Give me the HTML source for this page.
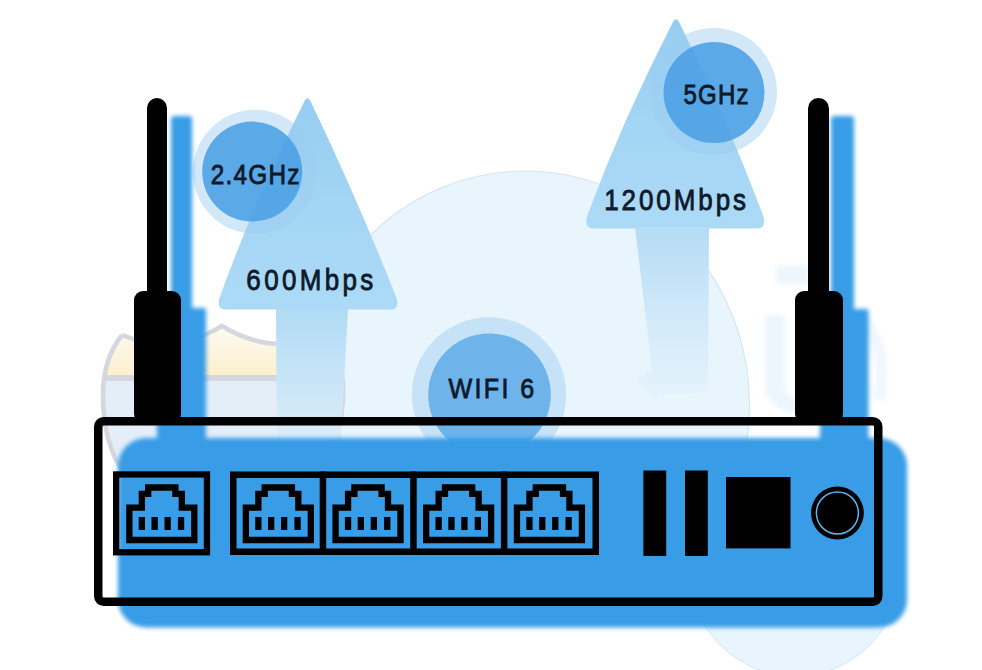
<!DOCTYPE html>
<html><head><meta charset="utf-8">
<style>
html,body{margin:0;padding:0;background:#fff;width:982px;height:670px;overflow:hidden;}
svg{position:absolute;left:0;top:0;display:block;}
text{font-family:"Liberation Sans",sans-serif;fill:#0d1a2b;}
</style></head>
<body>
<svg width="982" height="670" viewBox="0 0 982 670">
<defs>
  <filter id="blur2" x="-10%" y="-10%" width="120%" height="120%"><feGaussianBlur stdDeviation="2"/></filter>
  <filter id="blur3" x="-30%" y="-30%" width="160%" height="160%"><feGaussianBlur stdDeviation="2.5"/></filter>
  <linearGradient id="headG" x1="0" y1="0" x2="0" y2="1">
    <stop offset="0" stop-color="#95cdf2"/>
    <stop offset="0.5" stop-color="#a3d5f4"/>
    <stop offset="1" stop-color="#acdaf6"/>
  </linearGradient>
  <linearGradient id="stemL" x1="0" y1="0" x2="0" y2="1">
    <stop offset="0" stop-color="#b0dbf5"/>
    <stop offset="1" stop-color="#dcedf9"/>
  </linearGradient>
  <linearGradient id="stemR" x1="0" y1="0" x2="0" y2="1">
    <stop offset="0" stop-color="#b3dcf6"/>
    <stop offset="0.55" stop-color="#d3eaf9"/>
    <stop offset="1" stop-color="#e6f3fc"/>
  </linearGradient>
  <g id="rj">
    <path d="M16.35,69 V36.6 H28.85 V22.8 H35.2 V16.5 H62.4 V22.8 H68.8 V36.6 H81.3 V69 Z" fill="none" stroke="#000" stroke-width="6.3" stroke-linejoin="miter"/>
    <rect x="25.7" y="46" width="6.3" height="13" fill="#000"/>
    <rect x="38.5" y="46" width="6.3" height="13" fill="#000"/>
    <rect x="51.5" y="46" width="6.3" height="13" fill="#000"/>
    <rect x="64.9" y="46" width="6.3" height="13" fill="#000"/>
  </g>
</defs>

<!-- background big circle -->
<clipPath id="bigClip"><rect x="0" y="0" width="982" height="622"/></clipPath><ellipse clip-path="url(#bigClip)" cx="525" cy="405" rx="224.4" ry="234" fill="#e9f5fd" stroke="#d5e6f1" stroke-width="1.2"/>
<!-- bottom right faint circle -->
<circle cx="795" cy="570.4" r="105.7" fill="#e9f5fd" stroke="#d5e6f1" stroke-width="1"/>

<!-- faint shield left -->
<defs>
  <clipPath id="shieldClip"><path d="M122,335 Q172,356 222,326 Q272,356 322,336 C338,352 345,372 343,400 C341,425 336,450 322,470 L122,470 C110,452 103,425 103,395 C103,370 110,350 122,335 Z"/></clipPath>
  <linearGradient id="yel" x1="0" y1="0" x2="0" y2="1">
    <stop offset="0" stop-color="#fdfbf3"/>
    <stop offset="1" stop-color="#fcefcf"/>
  </linearGradient>
</defs>
<g clip-path="url(#shieldClip)">
  <rect x="95" y="320" width="260" height="57" fill="url(#yel)"/>
  <rect x="95" y="377" width="260" height="100" fill="#e4eef9"/>
  <rect x="95" y="375" width="260" height="6" fill="#d5d6de"/>
</g>
<path d="M122,335 Q172,356 222,326 Q272,356 322,336 C338,352 345,372 343,400 C341,425 336,450 322,470 M122,470 C110,452 103,425 103,395 C103,370 110,350 122,335" fill="none" stroke="#d5d6de" stroke-width="4.5"/>

<!-- faint shapes right -->
<g fill="#edf6fd" filter="url(#blur3)">
  <rect x="776" y="265" width="33" height="19"/>
  <rect x="765" y="315" width="20" height="80"/>
  <path d="M765,388 Q770,408 795,414 L800,400 Q786,396 785,388 Z"/>
</g>
<path d="M864,320 Q890,356 878,400" fill="none" stroke="#f0f7fd" stroke-width="12" filter="url(#blur3)"/>

<!-- left arrow -->
<path d="M303.6,103 Q307.5,93.5 311.4,103 Q358,200.5 396.5,298 Q400,309.5 390,309.5 L226,309.5 Q216,309.5 219.5,298 Q254.5,200.5 303.6,103 Z" fill="url(#headG)"/>
<path d="M276,309 H348 L341,440 H277 Z" fill="url(#stemL)"/>
<!-- right arrow -->
<path d="M672,24 Q676,14.5 680,24 Q727,119.5 763,215 Q767,228.5 757,228.5 L594,228.5 Q583,228.5 587.5,215 Q622.8,119.5 672,24 Z" fill="url(#headG)"/>
<path d="M635,227 H709 L708,392 L660,395 L655,402 L637,380 L652,370 Z" fill="url(#stemR)"/>

<!-- circles -->
<circle cx="255" cy="171.8" r="62" fill="#9ccbf0" fill-opacity="0.45"/>
<circle cx="252.2" cy="171.6" r="50" fill="#4b9fe4" fill-opacity="0.88"/>
<circle cx="713.5" cy="91.5" r="63.5" fill="#9ccbf0" fill-opacity="0.45"/>
<circle cx="714" cy="92.5" r="50.5" fill="#4b9fe4" fill-opacity="0.88"/>
<circle cx="489" cy="394.5" r="77.2" fill="#9ccbf0" fill-opacity="0.45"/>
<circle cx="489.5" cy="394.7" r="61.3" fill="#5eabe8" fill-opacity="0.85"/>

<!-- labels -->
<g stroke="#0d1a2b" stroke-width="0.85">
<text x="255.7" y="183.6" font-size="27.6" text-anchor="middle" letter-spacing="1.4" transform="translate(255.7 0) scale(0.88 1) translate(-255.7 0)">2.4GHz</text>
<text x="716.7" y="104.1" font-size="27.3" text-anchor="middle" letter-spacing="1.4" transform="translate(716.7 0) scale(0.88 1) translate(-716.7 0)">5GHz</text>
<text x="311.5" y="289.9" font-size="29.5" text-anchor="middle" letter-spacing="3.83" transform="translate(311.5 0) scale(0.88 1) translate(-311.5 0)">600Mbps</text>
<text x="676.6" y="210" font-size="29.5" text-anchor="middle" letter-spacing="3.37" transform="translate(676.6 0) scale(0.88 1) translate(-676.6 0)">1200Mbps</text>
<text x="492.5" y="398.4" font-size="28.5" text-anchor="middle" letter-spacing="2.7" transform="translate(492.5 0) scale(0.88 1) translate(-492.5 0)">WIFI 6</text>
</g>

<!-- blue shadow of router -->
<g fill="#389ce6" filter="url(#blur2)">
  <rect x="118" y="438" width="789" height="189.5" rx="28" ry="28"/>
  <rect x="171" y="116" width="21" height="220" rx="3"/>
  <rect x="157" y="308" width="49" height="140" rx="2"/>
  <rect x="831" y="116" width="23" height="220" rx="3"/>
  <rect x="820" y="309" width="48.5" height="140" rx="2"/>
</g>

<!-- antennas black -->
<g fill="#000">
  <rect x="147" y="98" width="20" height="220" rx="10" ry="10"/>
  <rect x="134" y="291" width="47" height="132" rx="9" ry="9"/>
  <rect x="808" y="98" width="21" height="220" rx="10.5" ry="10.5"/>
  <rect x="795" y="291" width="48" height="132" rx="9" ry="9"/>
</g>

<!-- router outline -->
<rect x="98.25" y="421.25" width="780" height="180.5" rx="5.5" ry="5.5" fill="none" stroke="#000" stroke-width="8.5"/>

<!-- ports -->
<rect x="116.15" y="474.45" width="90.8" height="77.8" fill="none" stroke="#000" stroke-width="6.3"/>
<use href="#rj" x="113" y="471"/>
<rect x="233.25" y="474.75" width="362.5" height="77" fill="none" stroke="#000" stroke-width="6.5"/>
<rect x="319.7" y="471.5" width="6.5" height="83.5" fill="#000"/>
<rect x="410.2" y="471.5" width="6.5" height="83.5" fill="#000"/>
<rect x="500.9" y="471.5" width="6.5" height="83.5" fill="#000"/>
<use href="#rj" x="229.5" y="471"/>
<use href="#rj" x="319.2" y="471"/>
<use href="#rj" x="409.8" y="471"/>
<use href="#rj" x="500.6" y="471"/>

<!-- bars / square / power -->
<rect x="643.4" y="470.5" width="22.8" height="85.5" fill="#000"/>
<rect x="685" y="470.5" width="22.8" height="85.5" fill="#000"/>
<rect x="726" y="477" width="64.5" height="71.4" fill="#000"/>
<circle cx="837.4" cy="513" r="26.4" fill="#000"/>
<circle cx="837.4" cy="513" r="21" fill="none" stroke="#5fb3ea" stroke-width="1.5"/>
</svg>
</body></html>
